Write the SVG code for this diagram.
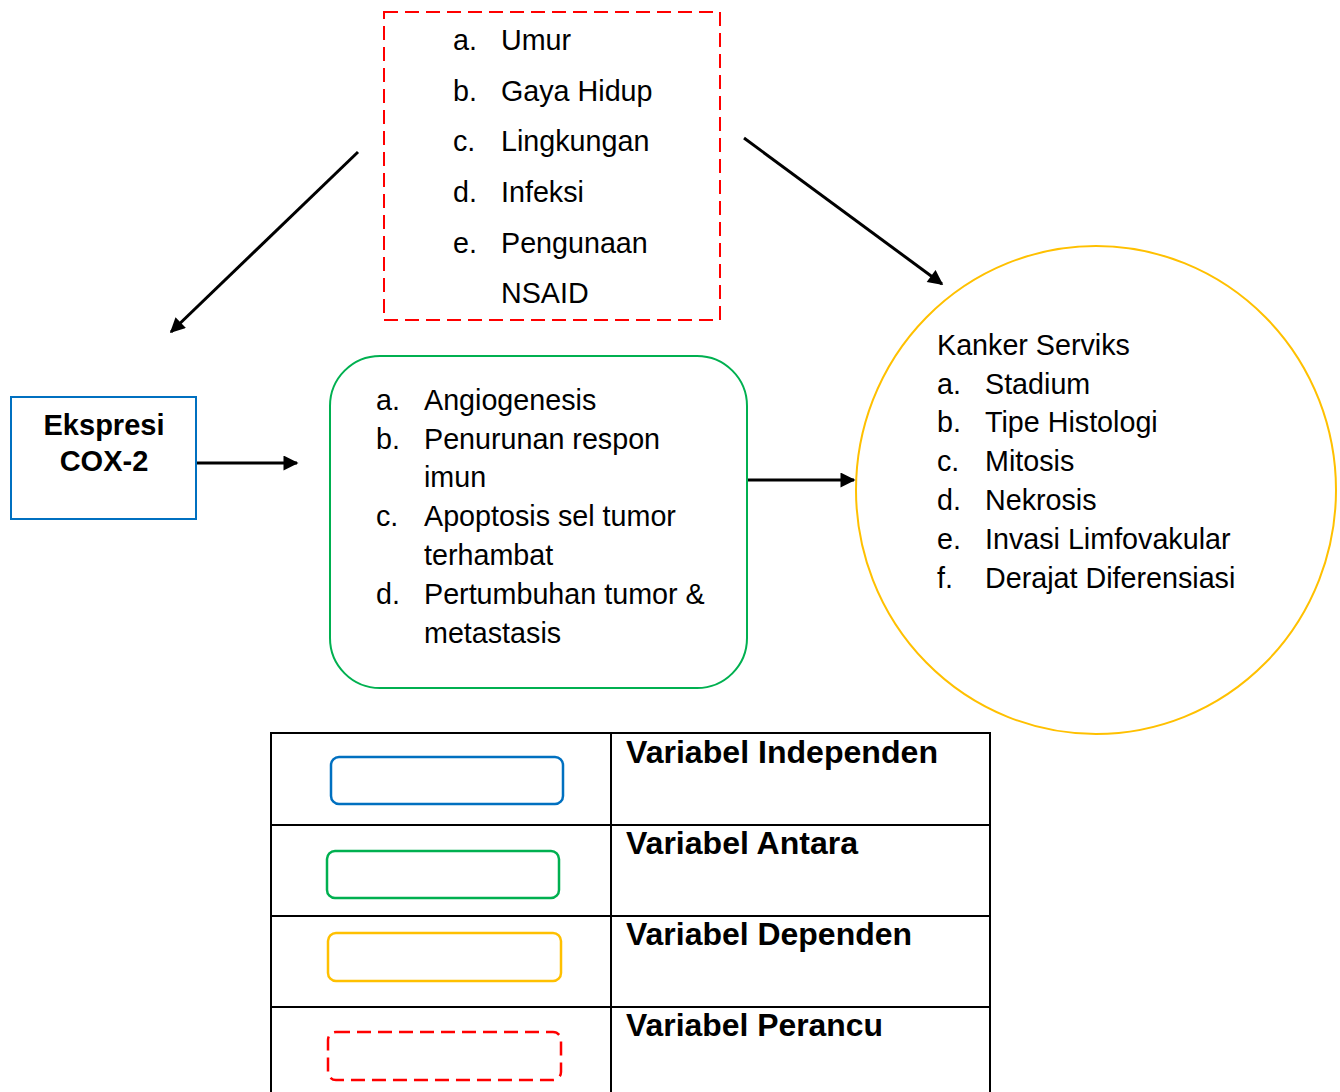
<svg xmlns="http://www.w3.org/2000/svg" width="1340" height="1092" viewBox="0 0 1340 1092">
<defs>
<marker id="arr" viewBox="0 0 10 10" refX="9" refY="5" markerWidth="5.5" markerHeight="5" orient="auto" markerUnits="strokeWidth">
<path d="M0,0 L10,5 L0,10 Z" fill="#000"/>
</marker>
<style>
.t{font-family:"Liberation Sans",Arial,sans-serif;font-size:28.7px;fill:#000}
.b{font-family:"Liberation Sans",Arial,sans-serif;font-size:29px;font-weight:bold;fill:#000}
.lg{font-family:"Liberation Sans",Arial,sans-serif;font-size:31px;font-weight:bold;fill:#000}
.conn{stroke:#000;stroke-width:3;fill:none;marker-end:url(#arr)}
.grid{stroke:#000;stroke-width:2;fill:none}
</style>
</defs>
<rect width="1340" height="1092" fill="#fff"/>

<g id="perancu">
<rect x="384" y="12" width="336" height="308" fill="none" stroke="#FF0000" stroke-width="2" stroke-dasharray="14,7"/>
<text class="t" x="453" y="50">a.</text><text class="t" x="501" y="50">Umur</text>
<text class="t" x="453" y="101">b.</text><text class="t" x="501" y="101">Gaya Hidup</text>
<text class="t" x="453" y="151">c.</text><text class="t" x="501" y="151">Lingkungan</text>
<text class="t" x="453" y="202">d.</text><text class="t" x="501" y="202">Infeksi</text>
<text class="t" x="453" y="253">e.</text><text class="t" x="501" y="253">Pengunaan</text>
<text class="t" x="501" y="303">NSAID</text>
</g>

<g id="independen">
<rect x="11" y="397" width="185" height="122" fill="none" stroke="#0070C0" stroke-width="2"/>
<text class="b" x="104" y="435" text-anchor="middle">Ekspresi</text>
<text class="b" x="104" y="471" text-anchor="middle">COX-2</text>
</g>

<g id="antara">
<rect x="330" y="356" width="417" height="332" rx="50" ry="50" fill="none" stroke="#00B050" stroke-width="2"/>
<text class="t" x="376" y="410">a.</text><text class="t" x="424" y="410">Angiogenesis</text>
<text class="t" x="376" y="449">b.</text><text class="t" x="424" y="449">Penurunan respon</text>
<text class="t" x="424" y="487">imun</text>
<text class="t" x="376" y="526">c.</text><text class="t" x="424" y="526">Apoptosis sel tumor</text>
<text class="t" x="424" y="565">terhambat</text>
<text class="t" x="376" y="604">d.</text><text class="t" x="424" y="604">Pertumbuhan tumor &amp;</text>
<text class="t" x="424" y="643">metastasis</text>
</g>

<g id="dependen">
<ellipse cx="1096" cy="490" rx="240" ry="244" fill="none" stroke="#FFC000" stroke-width="2"/>
<text class="t" x="937" y="355">Kanker Serviks</text>
<text class="t" x="937" y="394">a.</text><text class="t" x="985" y="394">Stadium</text>
<text class="t" x="937" y="432">b.</text><text class="t" x="985" y="432">Tipe Histologi</text>
<text class="t" x="937" y="471">c.</text><text class="t" x="985" y="471">Mitosis</text>
<text class="t" x="937" y="510">d.</text><text class="t" x="985" y="510">Nekrosis</text>
<text class="t" x="937" y="549">e.</text><text class="t" x="985" y="549">Invasi Limfovakular</text>
<text class="t" x="937" y="588">f.</text><text class="t" x="985" y="588">Derajat Diferensiasi</text>
</g>

<g id="connectors">
<line class="conn" x1="358" y1="152" x2="171" y2="332"/>
<line class="conn" x1="744" y1="138" x2="942" y2="284"/>
<line class="conn" x1="197" y1="463" x2="297" y2="463"/>
<line class="conn" x1="748" y1="480" x2="854" y2="480"/>
</g>

<g id="legend">
<rect class="grid" x="271" y="733" width="719" height="370"/>
<line class="grid" x1="611" y1="733" x2="611" y2="1092"/>
<line class="grid" x1="271" y1="825" x2="990" y2="825"/>
<line class="grid" x1="271" y1="916" x2="990" y2="916"/>
<line class="grid" x1="271" y1="1007" x2="990" y2="1007"/>
<rect x="331" y="757" width="232" height="47" rx="8" fill="none" stroke="#0070C0" stroke-width="2.5"/>
<rect x="327" y="851" width="232" height="47" rx="8" fill="none" stroke="#00B050" stroke-width="2.5"/>
<rect x="328" y="933" width="233" height="48" rx="8" fill="none" stroke="#FFC000" stroke-width="2.5"/>
<rect x="328" y="1032" width="233" height="48" rx="8" fill="none" stroke="#FF0000" stroke-width="2.5" stroke-dasharray="14,7"/>
<text class="lg" x="626" y="763" textLength="312" lengthAdjust="spacingAndGlyphs">Variabel Independen</text>
<text class="lg" x="626" y="854" textLength="232" lengthAdjust="spacingAndGlyphs">Variabel Antara</text>
<text class="lg" x="626" y="945" textLength="286" lengthAdjust="spacingAndGlyphs">Variabel Dependen</text>
<text class="lg" x="626" y="1036" textLength="257" lengthAdjust="spacingAndGlyphs">Variabel Perancu</text>
</g>
</svg>
